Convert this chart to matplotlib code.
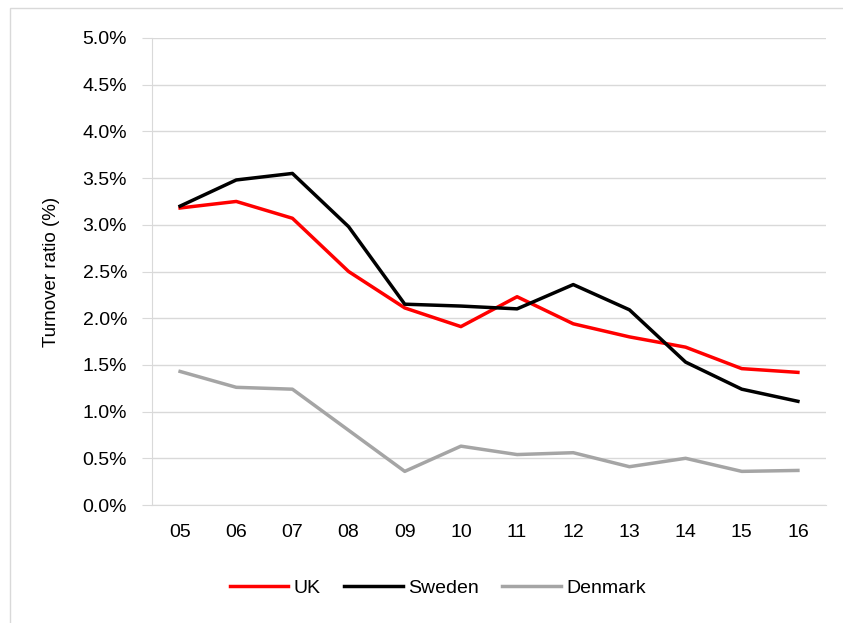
import matplotlib
matplotlib.use('Agg')
import matplotlib.pyplot as plt
from matplotlib.patches import Rectangle
from matplotlib.ticker import FuncFormatter

# Turnover ratio by year
years = ['05', '06', '07', '08', '09', '10', '11', '12', '13', '14', '15', '16']
uk = [3.18, 3.25, 3.07, 2.50, 2.11, 1.91, 2.23, 1.94, 1.80, 1.69, 1.46, 1.42]
sweden = [3.20, 3.48, 3.55, 2.98, 2.15, 2.13, 2.10, 2.36, 2.09, 1.53, 1.24, 1.11]
denmark = [1.43, 1.26, 1.24, 0.80, 0.36, 0.63, 0.54, 0.56, 0.41, 0.50, 0.36, 0.37]

plt.rcParams['font.family'] = ['Liberation Sans', 'DejaVu Sans']

fig = plt.figure(figsize=(8.43, 6.23), dpi=100)
W, H = 843, 623
ax = fig.add_axes([152 / W, 1 - 505 / H, (826 - 152) / W, (505 - 38) / H])

# chart border
fig.patches.append(Rectangle((10 / W, -0.1), 1.2, 1 - 8 / H + 0.1, transform=fig.transFigure,
                             fill=False, edgecolor='#D9D9D9', linewidth=1))

x = range(len(years))
ax.plot(x, uk, color='#FF0000', linewidth=2.5, label='UK')
ax.plot(x, sweden, color='#000000', linewidth=2.5, label='Sweden')
ax.plot(x, denmark, color='#A5A5A5', linewidth=2.5, label='Denmark')

ax.set_xlim(-0.5, len(years) - 0.5)
ax.set_ylim(0, 5.0)
ax.set_yticks([i * 0.5 for i in range(11)])
ax.yaxis.set_major_formatter(FuncFormatter(lambda v, p: f'{v:.1f}%'))
ax.set_xticks(list(x))
ax.set_xticklabels(years)
ax.grid(axis='y', color='#D9D9D9', linewidth=1)
ax.set_axisbelow(True)

for s in ['top', 'right']:
    ax.spines[s].set_visible(False)
ax.spines['left'].set_color('#D9D9D9')
ax.spines['bottom'].set_color('#D9D9D9')
ax.tick_params(axis='y', length=7, color='#D9D9D9', labelsize=14, pad=11)
ax.tick_params(axis='x', length=0, labelsize=14, pad=14)
ax.set_ylabel('Turnover ratio (%)', fontsize=13.5, labelpad=16)

fig.legend(loc='center', bbox_to_anchor=(438 / W, 1 - 588 / H), ncol=3, frameon=False,
           fontsize=14, handlelength=3.0, columnspacing=1.2, handletextpad=0.3)

fig.savefig('out.png', dpi=100)
